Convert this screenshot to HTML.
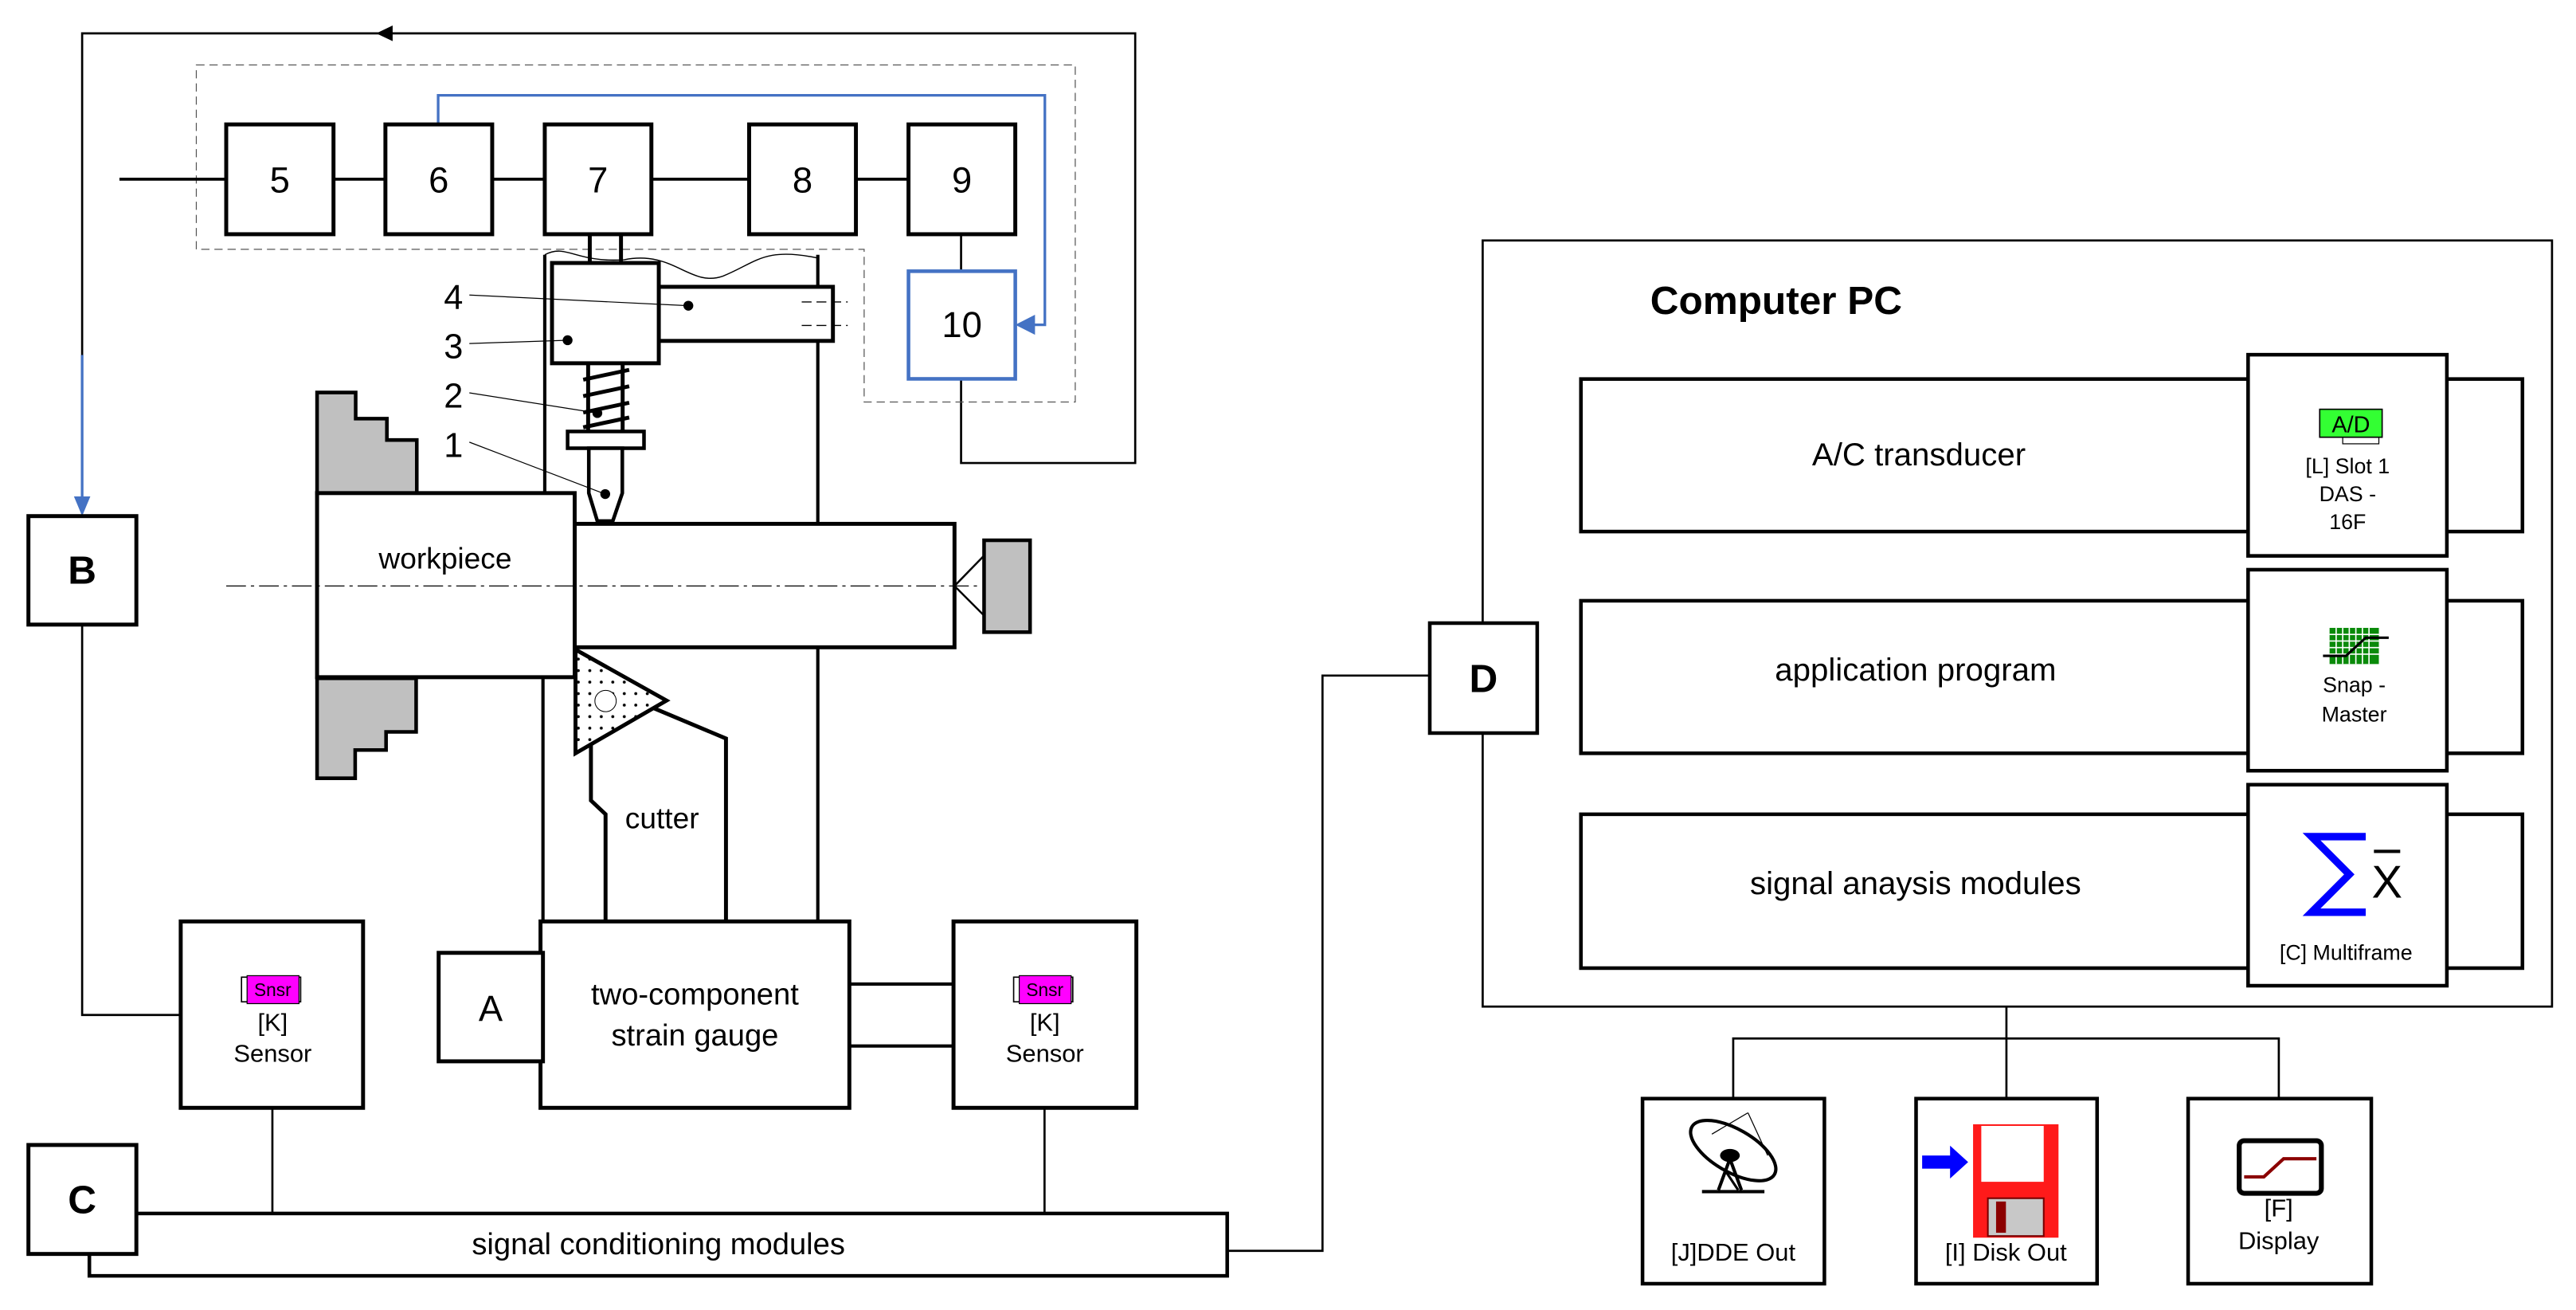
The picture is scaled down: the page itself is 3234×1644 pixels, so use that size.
<!DOCTYPE html>
<html><head><meta charset="utf-8"><style>
html,body{margin:0;padding:0;background:#fff;}
svg{display:block;}
text{font-family:"Liberation Sans",sans-serif;fill:#000;}
</style></head><body>
<svg width="3234" height="1644" viewBox="0 0 1568 797" preserveAspectRatio="none" xmlns="http://www.w3.org/2000/svg">
<defs>
<pattern id="dots" width="7" height="7" patternUnits="userSpaceOnUse"><circle cx="2" cy="2" r="0.9" fill="#000"/></pattern>
</defs>
<g fill="none" stroke="#000" stroke-width="1.3">
<polyline points="50,216 50,20.3 691,20.3 691,281.7 585,281.7 585,230.5"/>
<polygon points="119.5,39.5 654.5,39.5 654.5,244.6 526,244.6 526,151.7 119.5,151.7" stroke="#555" stroke-width="0.6" stroke-dasharray="5,3"/>
<line x1="72.7" y1="109" x2="553" y2="109" stroke-width="1.8"/>
<line x1="585" y1="142.5" x2="585" y2="165"/>
<line x1="331.6" y1="155" x2="331.6" y2="300" stroke-width="2"/>
<line x1="497.8" y1="155" x2="497.8" y2="319" stroke-width="2"/>
<line x1="497.8" y1="394" x2="497.8" y2="561" stroke-width="2"/>
<line x1="330.5" y1="412" x2="330.5" y2="561" stroke-width="2"/>
<path d="M331.6,155 C345,148 350,160 380,158 C410,152 420,175 440,168 C460,160 465,150 497.8,157" stroke-width="0.7"/>
<polyline points="50,380 50,617.5 110,617.5"/>
<line x1="165.8" y1="674" x2="165.8" y2="738.3"/>
<line x1="635.8" y1="674" x2="635.8" y2="738.3"/>
<line x1="517" y1="598.7" x2="580.4" y2="598.7" stroke-width="2"/>
<line x1="517" y1="636.4" x2="580.4" y2="636.4" stroke-width="2"/>
<polyline points="747,761 805,761 805,411 870.3,411"/>
<line x1="1221.3" y1="612.4" x2="1221.3" y2="668.4"/>
<polyline points="1055,668.4 1055,631.8 1387.1,631.8 1387.1,668.4"/>
</g>
<polygon points="229,20.3 239,15.5 239,25" fill="#000"/>
<g fill="none" stroke="#4472c4" stroke-width="1.6">
<line x1="50" y1="216" x2="50" y2="305"/>
<polyline points="266.7,75.7 266.7,58 636,58 636,197.6 626,197.6"/>
</g>
<polygon points="50,314 45,302 55,302" fill="#4472c4"/>
<polygon points="618,197.6 630,191.5 630,203.7" fill="#4472c4"/>

<g fill="#fff" stroke="#000" stroke-width="2.4">
<rect x="137.7" y="75.7" width="65.3" height="66.8"/>
<rect x="234.6" y="75.7" width="65" height="66.8"/>
<rect x="331.6" y="75.7" width="64.9" height="66.8"/>
<rect x="456" y="75.7" width="65" height="66.8"/>
<rect x="553" y="75.7" width="65" height="66.8"/>
</g>
<rect x="553" y="165" width="65" height="65.5" fill="#fff" stroke="#4472c4" stroke-width="2.2"/>
<g font-size="22" text-anchor="middle">
<text x="170.3" y="117">5</text><text x="267" y="117">6</text><text x="364" y="117">7</text>
<text x="488.5" y="117">8</text><text x="585.5" y="117">9</text><text x="585.5" y="205">10</text>
</g>
<g stroke="#000" stroke-width="2.4" fill="#fff">
<line x1="359" y1="142.5" x2="359" y2="160"/><line x1="378" y1="142.5" x2="378" y2="160"/>
<rect x="401" y="174.5" width="106" height="32.9"/>
<rect x="336" y="160" width="65" height="61"/>
</g>
<g stroke="#000" stroke-width="0.7">
<line x1="488" y1="183.7" x2="516" y2="183.7" stroke-dasharray="6,3"/>
<line x1="488" y1="198" x2="516" y2="198" stroke-dasharray="6,3"/>
</g>
<g stroke="#000" stroke-width="2.4" fill="none">
<line x1="358" y1="221" x2="358" y2="262"/><line x1="379" y1="221" x2="379" y2="262"/>
<path d="M355,231 L383,225 M355,241 L383,235 M355,251 L383,245 M355,260 L383,254"/>
</g>
<rect x="345.5" y="262.5" width="46.5" height="10.2" fill="#fff" stroke="#000" stroke-width="2.2"/>
<polygon points="358.4,272.7 378.8,272.7 378.8,300 373,317 363.6,317 358.4,300" fill="#fff" stroke="#000" stroke-width="2.2"/>
<g stroke="#000" stroke-width="0.6">
<line x1="285.7" y1="179.5" x2="419" y2="186"/>
<line x1="285.7" y1="209" x2="345.5" y2="207"/>
<line x1="285.7" y1="239" x2="363.6" y2="251.3"/>
<line x1="285.7" y1="269" x2="368.4" y2="300.6"/>
</g>
<g fill="#000">
<circle cx="419" cy="186" r="3"/><circle cx="345.5" cy="207" r="3"/><circle cx="363.6" cy="251.3" r="3"/><circle cx="368.4" cy="300.6" r="3"/>
</g>
<g font-size="21" text-anchor="middle">
<text x="276" y="188">4</text><text x="276" y="218">3</text><text x="276" y="248">2</text><text x="276" y="278">1</text>
</g>
<g fill="#c0c0c0" stroke="#000" stroke-width="2.2">
<polygon points="193,238.8 216.5,238.8 216.5,254.7 235.5,254.7 235.5,267.7 253.7,267.7 253.7,300 193,300"/>
<polygon points="193,412.7 253.3,412.7 253.3,445.3 235,445.3 235,456.3 216.2,456.3 216.2,473.5 193,473.5"/>
<rect x="599" y="328.7" width="28" height="55.9"/>
</g>
<rect x="349.8" y="318.7" width="231.2" height="75.1" fill="#fff" stroke="#000" stroke-width="2.4"/>
<rect x="193" y="300" width="156.8" height="112" fill="#fff" stroke="#000" stroke-width="2.4"/>
<line x1="137.7" y1="356.5" x2="597" y2="356.5" stroke="#000" stroke-width="0.6" stroke-dasharray="12,3,2,3"/>
<polyline points="599,338 581,356.5 599,374.5" fill="none" stroke="#000" stroke-width="1.2"/>
<text x="271" y="346" font-size="18" text-anchor="middle">workpiece</text>
<polyline points="359.7,452 359.7,487 368.6,495.4 368.6,560.6" fill="none" stroke="#000" stroke-width="2.4"/>
<polyline points="398.3,431 441.9,449.3 441.9,560.6" fill="none" stroke="#000" stroke-width="2.4"/>
<polygon points="350.3,395.2 405.7,426.2 350.3,458.3" fill="#fff" stroke="#000" stroke-width="2.4"/>
<polygon points="350.3,395.2 405.7,426.2 350.3,458.3" fill="url(#dots)"/>
<circle cx="368.6" cy="426.5" r="6.5" fill="#fff" stroke="#000" stroke-width="0.5"/>
<text x="403" y="504" font-size="18" text-anchor="middle">cutter</text>
<g fill="#fff" stroke="#000" stroke-width="2.4">
<rect x="329" y="560.6" width="188" height="113.4"/>
<rect x="267" y="579.7" width="63.5" height="66"/>
<rect x="110" y="560.6" width="111" height="113.4"/>
<rect x="580.4" y="560.6" width="111.3" height="113.4"/>
<rect x="17.3" y="314" width="65.7" height="66"/>
</g>
<text x="423" y="611" font-size="18.5" text-anchor="middle">two-component</text>
<text x="423" y="636" font-size="18.5" text-anchor="middle">strain gauge</text>
<text x="298.7" y="621" font-size="22" text-anchor="middle">A</text>
<text x="50" y="355" font-size="24" font-weight="bold" text-anchor="middle">B</text>
<g>
<rect x="147" y="594.5" width="36" height="15" fill="none" stroke="#000" stroke-width="0.8"/>
<rect x="150.4" y="593.6" width="31.6" height="17" fill="#ff00ff" stroke="#000" stroke-width="0.6"/>
<text x="166" y="606" font-size="11" text-anchor="middle">Snsr</text>
<text x="166" y="627" font-size="15" text-anchor="middle">[K]</text>
<text x="166" y="646" font-size="15" text-anchor="middle">Sensor</text>
<rect x="617" y="594.5" width="36" height="15" fill="none" stroke="#000" stroke-width="0.8"/>
<rect x="620.4" y="593.6" width="31.6" height="17" fill="#ff00ff" stroke="#000" stroke-width="0.6"/>
<text x="636" y="606" font-size="11" text-anchor="middle">Snsr</text>
<text x="636" y="627" font-size="15" text-anchor="middle">[K]</text>
<text x="636" y="646" font-size="15" text-anchor="middle">Sensor</text>
</g>
<polyline points="83,738.3 747,738.3 747,776.2 54.4,776.2 54.4,762.9" fill="none" stroke="#000" stroke-width="2.2"/>
<rect x="17.3" y="696.6" width="65.7" height="66.3" fill="#fff" stroke="#000" stroke-width="2.4"/>
<text x="50" y="738" font-size="24" font-weight="bold" text-anchor="middle">C</text>
<text x="400.8" y="763" font-size="18.5" text-anchor="middle">signal conditioning modules</text>
<rect x="902.5" y="146.3" width="650.9" height="466.1" fill="none" stroke="#000" stroke-width="1.3"/>
<text x="1004.5" y="191" font-size="24" font-weight="bold">Computer PC</text>
<g fill="#fff" stroke="#000" stroke-width="2.2">
<rect x="962.3" y="230.6" width="573.1" height="92.8"/>
<rect x="962.3" y="365.5" width="573.1" height="92.8"/>
<rect x="962.3" y="495.4" width="573.1" height="93.6"/>
<rect x="1368.4" y="215.8" width="121" height="122.4"/>
<rect x="1368.4" y="346.6" width="121" height="122.3"/>
<rect x="1368.4" y="477.4" width="121" height="122.3"/>
<rect x="870.3" y="379.1" width="65.4" height="66.9"/>
</g>
<text x="903" y="421" font-size="24" font-weight="bold" text-anchor="middle">D</text>
<g font-size="19.5" text-anchor="middle">
<text x="1168" y="283">A/C transducer</text>
<text x="1166" y="414">application program</text>
<text x="1166" y="544">signal anaysis modules</text>
</g>
<rect x="1412" y="249" width="38" height="17" fill="#33ff33" stroke="#000" stroke-width="0.8"/>
<rect x="1426" y="266" width="22" height="4" fill="none" stroke="#000" stroke-width="0.6"/>
<text x="1431" y="263" font-size="14" text-anchor="middle" font-family="Liberation Mono">A/D</text>
<g font-size="13" text-anchor="middle">
<text x="1429" y="288">[L] Slot 1</text>
<text x="1429" y="305">DAS -</text>
<text x="1429" y="322">16F</text>
<text x="1433" y="421">Snap -</text>
<text x="1433" y="439">Master</text>
<text x="1428" y="584">[C] Multiframe</text>
</g>
<rect x="1418" y="382" width="30" height="22" fill="#0a8a0a"/>
<g stroke="#fff" stroke-width="0.8">
<line x1="1418" y1="386" x2="1448" y2="386"/><line x1="1418" y1="390" x2="1448" y2="390"/><line x1="1418" y1="394" x2="1448" y2="394"/><line x1="1418" y1="398" x2="1448" y2="398"/>
<line x1="1422" y1="382" x2="1422" y2="404"/><line x1="1426" y1="382" x2="1426" y2="404"/><line x1="1430" y1="382" x2="1430" y2="404"/><line x1="1434" y1="382" x2="1434" y2="404"/><line x1="1438" y1="382" x2="1438" y2="404"/><line x1="1442" y1="382" x2="1442" y2="404"/>
</g>
<polyline points="1414,399 1428,399 1440,388 1454,388" fill="none" stroke="#000" stroke-width="1.5"/>
<polyline points="1440,509 1407,509 1430,532 1407,555 1440,555" fill="none" stroke="#0000ff" stroke-width="4.5"/>
<line x1="1445" y1="518" x2="1461" y2="518" stroke="#000" stroke-width="2"/>
<text x="1453" y="546" font-size="28" text-anchor="middle">X</text>
<g fill="#fff" stroke="#000" stroke-width="2.2">
<rect x="999.8" y="668.4" width="110.7" height="112.6"/>
<rect x="1166.3" y="668.4" width="110.2" height="112.6"/>
<rect x="1331.9" y="668.4" width="111.5" height="112.6"/>
</g>
<g stroke="#000" fill="none">
<ellipse cx="1055" cy="700" rx="29" ry="13" transform="rotate(30 1055 700)" stroke-width="2"/>
<line x1="1042" y1="690" x2="1064" y2="677" stroke-width="0.6"/>
<line x1="1064" y1="677" x2="1076" y2="703" stroke-width="0.6"/>
<polyline points="1046,724 1053,705 1060,724" stroke-width="2"/>
<line x1="1050" y1="712" x2="1058" y2="724" stroke-width="1.5"/>
<line x1="1036" y1="725" x2="1074" y2="725" stroke-width="2"/>
</g>
<ellipse cx="1053" cy="703" rx="6" ry="4" fill="#000"/>
<text x="1055" y="767" font-size="15" text-anchor="middle">[J]DDE Out</text>
<rect x="1201" y="684" width="52" height="69" fill="#ff1a1a"/>
<rect x="1206" y="685" width="38" height="34" fill="#fff"/>
<rect x="1210" y="729" width="34" height="23" fill="#c8c8c8" stroke="#700" stroke-width="1"/>
<rect x="1215" y="731" width="6" height="19" fill="#8b0000"/>
<polygon points="1170,703 1187,703 1187,697 1198,707 1187,717 1187,711 1170,711" fill="#0000ff"/>
<text x="1221" y="767" font-size="15" text-anchor="middle">[I] Disk Out</text>
<rect x="1363" y="694" width="50" height="32" rx="3" fill="#fff" stroke="#000" stroke-width="3"/>
<polyline points="1366,716 1378,716 1390,705 1410,705" fill="none" stroke="#8b0000" stroke-width="2"/>
<text x="1387" y="740" font-size="15" text-anchor="middle">[F]</text>
<text x="1387" y="760" font-size="15" text-anchor="middle">Display</text>
</svg>
</body></html>
